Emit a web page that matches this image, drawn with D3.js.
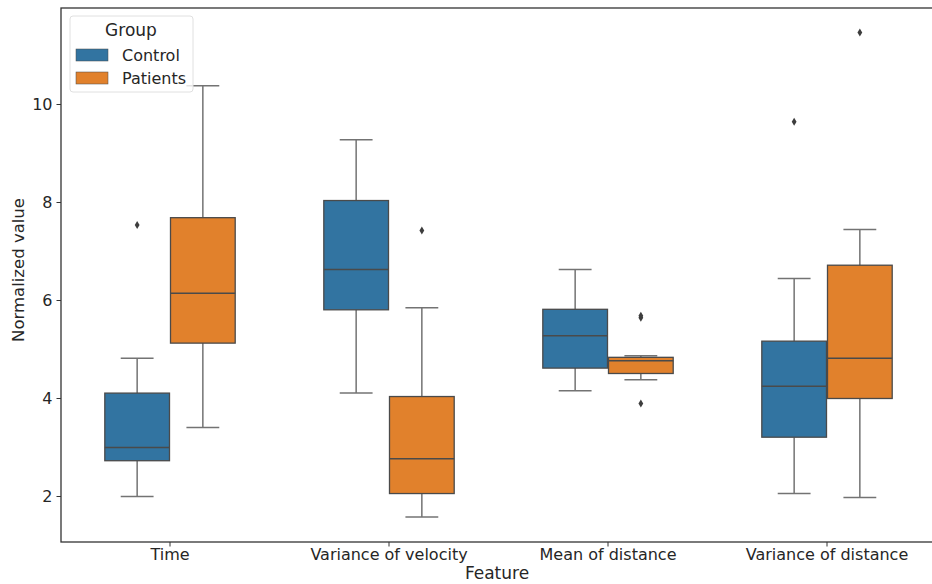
<!DOCTYPE html>
<html>
<head>
<meta charset="utf-8">
<script src="https://cdn.jsdelivr.net/npm/d3@7"></script>
<style>
  html, body { margin: 0; padding: 0; background: #fff; }
  svg { display: block; font-family: "DejaVu Sans", sans-serif; }
</style>
</head>
<body>
<svg id="chart" width="932" height="584"></svg>
<script>
// Features on the x axis and the two groups compared within each
const features = ["Time", "Variance of velocity", "Mean of distance", "Variance of distance"];
const groups = ["Control", "Patients"];
const groupColors = ["#3274a1", "#e1812c"];
const yTicks = [2, 4, 6, 8, 10];

// Five-number summaries [whisker low, Q1, median, Q3, whisker high] per feature
const controlStats = [
  [1.99, 2.72, 2.99, 4.10, 4.81],
  [4.10, 5.80, 6.62, 8.03, 9.27],
  [4.15, 4.61, 5.27, 5.81, 6.62],
  [2.05, 3.20, 4.24, 5.16, 6.44]
];
const patientStats = [
  [3.40, 5.12, 6.14, 7.68, 10.37],
  [1.57, 2.05, 2.76, 4.03, 5.84],
  [4.37, 4.50, 4.76, 4.83, 4.86],
  [1.97, 3.99, 4.81, 6.71, 7.44]
];
// Points beyond the whiskers
const controlOutliers = [[7.53], [], [], [9.64]];
const patientOutliers = [[], [7.42], [5.64, 5.68, 3.89], [11.46]];

const svg = d3.select("#chart");
const plot = { left: 61, right: 936, top: 8, bottom: 542 };
const textColor = "#262626";
const fontFamily = '"DejaVu Sans", sans-serif';

const x = d3.scaleBand().domain(features).range([60.5, 936.5]).padding(0);
const boxSpan = x.bandwidth() * 0.6;
const xg = d3.scaleBand().domain(groups).range([-boxSpan / 2, boxSpan / 2]).padding(0);
const y = d3.scaleLinear().domain([(594 - plot.bottom) / 49, (594 - plot.top) / 49])
  .range([plot.bottom, plot.top]);
const color = d3.scaleOrdinal().domain(groups).range(groupColors);

// Flatten into one record per box
const boxes = [];
features.forEach((f, i) => {
  [[controlStats, controlOutliers], [patientStats, patientOutliers]].forEach(([st, out], gi) => {
    const s = st[i];
    boxes.push({ feature: f, group: groups[gi], lo: s[0], q1: s[1], med: s[2], q3: s[3], hi: s[4], out: out[i] });
  });
});

const g = svg.append("g");
const inset = 1;

const box = g.selectAll("g.box").data(boxes).join("g").attr("class", "box")
  .attr("transform", d => `translate(${x(d.feature) + x.bandwidth() / 2 + xg(d.group)},0)`);

const bw = xg.bandwidth();
const whiskerColor = "#737373";
const edgeColor = "#4a4a4a";

// Whisker stems
box.append("line").attr("x1", bw / 2).attr("x2", bw / 2)
  .attr("y1", d => y(d.q3)).attr("y2", d => y(d.hi))
  .attr("stroke", whiskerColor).attr("stroke-width", 1.5);
box.append("line").attr("x1", bw / 2).attr("x2", bw / 2)
  .attr("y1", d => y(d.q1)).attr("y2", d => y(d.lo))
  .attr("stroke", whiskerColor).attr("stroke-width", 1.5);
// Caps
box.append("line").attr("x1", bw / 4).attr("x2", bw * 3 / 4)
  .attr("y1", d => y(d.hi)).attr("y2", d => y(d.hi))
  .attr("stroke", whiskerColor).attr("stroke-width", 1.5);
box.append("line").attr("x1", bw / 4).attr("x2", bw * 3 / 4)
  .attr("y1", d => y(d.lo)).attr("y2", d => y(d.lo))
  .attr("stroke", whiskerColor).attr("stroke-width", 1.5);
// Boxes
box.append("rect").attr("x", inset / 2).attr("width", bw - inset)
  .attr("y", d => y(d.q3)).attr("height", d => y(d.q1) - y(d.q3))
  .attr("fill", d => color(d.group)).attr("stroke", edgeColor).attr("stroke-width", 1.3);
// Medians
box.append("line").attr("x1", inset / 2).attr("x2", bw - inset / 2)
  .attr("y1", d => y(d.med)).attr("y2", d => y(d.med))
  .attr("stroke", edgeColor).attr("stroke-width", 1.5);
// Outliers as small diamonds
box.selectAll("path.out").data(d => d.out).join("path").attr("class", "out")
  .attr("d", "M0,-4L2.4,0L0,4L-2.4,0Z")
  .attr("transform", v => `translate(${bw / 2},${y(v)})`)
  .attr("fill", "#3d3d3d");

// Axes
const yAxis = d3.axisLeft(y).tickValues(yTicks).tickSize(4.5).tickPadding(4).tickFormat(d3.format("d"));
const yg = svg.append("g").attr("transform", `translate(${plot.left},0)`).call(yAxis);
const xAxis = d3.axisBottom(x).tickSize(4.5).tickPadding(4);
const xgAxis = svg.append("g").attr("transform", `translate(0,${plot.bottom})`).call(xAxis);
[yg, xgAxis].forEach(a => {
  a.attr("font-family", fontFamily).attr("font-size", 16);
  a.select(".domain").remove();
  a.selectAll(".tick line").attr("stroke", "#333").attr("stroke-width", 1);
  a.selectAll(".tick text").attr("fill", textColor);
});
xgAxis.selectAll(".tick text").attr("y", 18).attr("dy", 0);

// Frame
svg.append("rect").attr("x", plot.left).attr("y", plot.top)
  .attr("width", plot.right - plot.left).attr("height", plot.bottom - plot.top)
  .attr("fill", "none").attr("stroke", "#333").attr("stroke-width", 1.3);

// Axis titles
svg.append("text").attr("x", 497).attr("y", 579).attr("text-anchor", "middle")
  .attr("fill", textColor).style("font-size", "17px").text("Feature");
svg.append("text").attr("transform", "translate(24,270) rotate(-90)").attr("text-anchor", "middle")
  .attr("fill", textColor).style("font-size", "16.5px").text("Normalized value");

// Legend
const lg = svg.append("g").attr("transform", "translate(70,16)");
lg.append("rect").attr("width", 123).attr("height", 76).attr("rx", 3)
  .attr("fill", "#fff").attr("fill-opacity", 0.8).attr("stroke", "#e0e0e0").attr("stroke-width", 1);
lg.append("text").attr("x", 61).attr("y", 20).attr("text-anchor", "middle")
  .attr("fill", textColor).style("font-size", "17px").text("Group");
const items = lg.selectAll("g.item").data(groups).join("g").attr("class", "item")
  .attr("transform", (d, i) => `translate(6,${33 + i * 23})`);
items.append("rect").attr("width", 32).attr("height", 12)
  .attr("fill", d => color(d)).attr("stroke", "#4a4a4a").attr("stroke-width", 0.5);
items.append("text").attr("x", 46).attr("y", 12)
  .attr("fill", textColor).style("font-size", "16px").text(d => d);
</script>
</body>
</html>
